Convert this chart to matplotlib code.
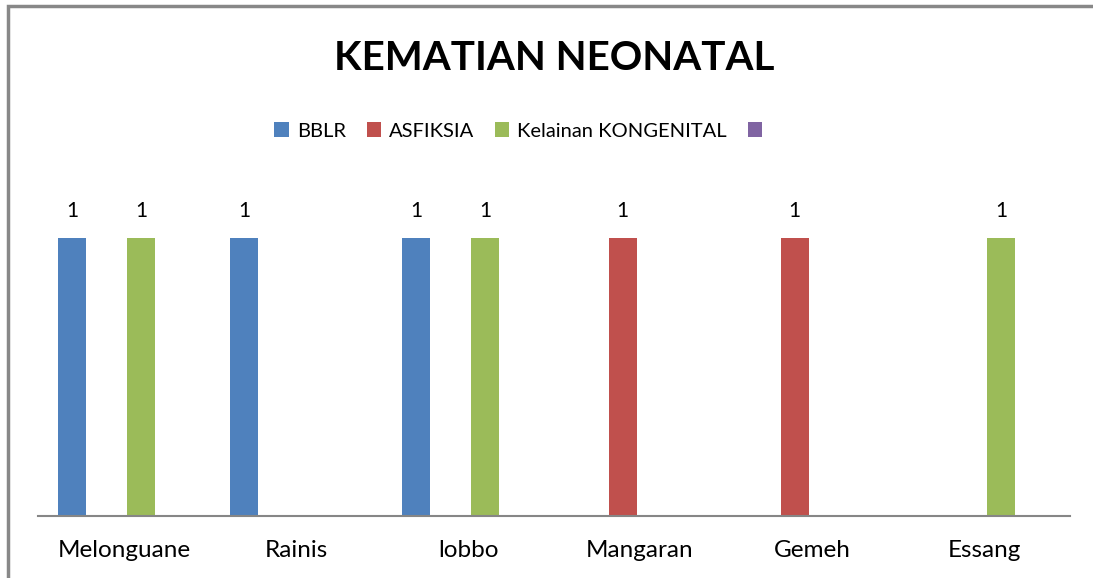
import numpy as np
import matplotlib.pyplot as plt
from matplotlib.patches import Rectangle, Patch

plt.rcParams['font.family'] = ['Lato', 'DejaVu Sans']

categories = ['Melonguane', 'Rainis', 'lobbo', 'Mangaran', 'Gemeh', 'Essang']
series_names = ['BBLR', 'ASFIKSIA', 'Kelainan KONGENITAL', '']
bblr = [1, 1, 1, 0, 0, 0]
asfiksia = [0, 0, 0, 1, 1, 0]
kongenital = [1, 0, 1, 0, 0, 1]
series4 = [0, 0, 0, 0, 0, 0]
colors = ['#4F81BD', '#C0504D', '#9BBB59', '#8064A2']

fig = plt.figure(figsize=(10.93, 5.78), dpi=100)
fig.patches.append(Rectangle((8 / 1093, -0.1), 1.2, 1 - 6 / 578 + 0.1,
                             transform=fig.transFigure, fill=False,
                             edgecolor='#888888', linewidth=2.5))

ax = fig.add_axes([38 / 1093, 1 - 516 / 578, (1070 - 38) / 1093, 0.577])
x = np.arange(len(categories))
width = 0.163
offsets = [-0.3, -0.1, 0.1, 0.3]
all_series = [bblr, asfiksia, kongenital, series4]

for vals, off, col in zip(all_series, offsets, colors):
    for xi, v in zip(x, vals):
        if v > 0:
            ax.bar(xi + off, v, width, color=col)
            ax.annotate(str(v), (xi + off, v), xytext=(0, 19.5),
                        textcoords='offset points', ha='center', va='center',
                        fontsize=15)

ax.set_xlim(-0.5, len(categories) - 0.5)
ax.set_ylim(0, 1.2)
ax.set_yticks([])
ax.set_xticks(x)
ax.set_xticklabels(categories, fontsize=17.5)
ax.tick_params(axis='x', length=0, pad=17)
for s in ['top', 'right', 'left']:
    ax.spines[s].set_visible(False)
ax.spines['bottom'].set_color('#868686')
ax.spines['bottom'].set_linewidth(1.5)

fig.text(0.507, 1 - 59 / 578, 'KEMATIAN NEONATAL', ha='center', va='center',
         fontsize=29, fontweight='bold')

handles = [Patch(facecolor=c) for c in colors]
fig.legend(handles, series_names, loc='center', bbox_to_anchor=(0.478, 1 - 131 / 578),
           ncol=4, frameon=False, fontsize=14.5, handlelength=0.7, handleheight=0.7,
           handletextpad=0.4, columnspacing=1.05)

fig.savefig('out.png', dpi=100)
